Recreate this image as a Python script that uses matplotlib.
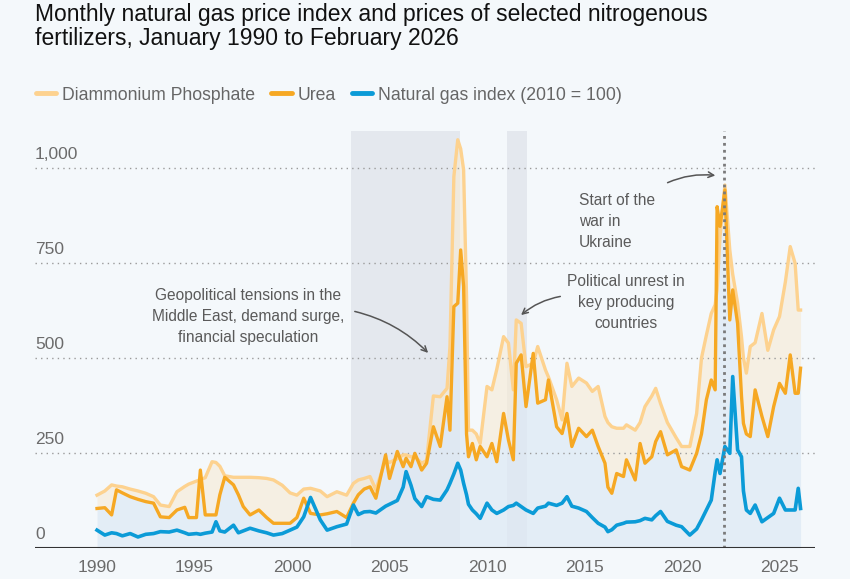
import matplotlib
matplotlib.use('Agg')
import matplotlib.pyplot as plt
from matplotlib.lines import Line2D

plt.rcParams['font.family'] = ['Liberation Sans', 'DejaVu Sans']

# dates as decimal years
dates = [1990.0, 1990.4, 1990.75, 1991.0, 1991.3, 1991.7, 1992.1, 1992.5, 1992.9, 1993.25,
         1993.7, 1994.1, 1994.5, 1994.7, 1995.1, 1995.3, 1995.55, 1995.9, 1996.1, 1996.3,
         1996.55, 1997.0, 1997.25, 1997.5, 1997.85, 1998.3, 1998.7, 1999.05, 1999.5, 1999.9,
         2000.25, 2000.6, 2000.95, 2001.45, 2001.8, 2002.3, 2002.8, 2003.15, 2003.4, 2003.7,
         2004.0, 2004.3, 2004.8, 2005.0, 2005.4, 2005.7, 2005.85, 2006.1, 2006.3, 2006.65,
         2006.9, 2007.25, 2007.6, 2007.95, 2008.1, 2008.3, 2008.5, 2008.65, 2008.8, 2008.95,
         2009.05, 2009.25, 2009.45, 2009.65, 2010.0, 2010.25, 2010.5, 2010.85, 2011.1, 2011.35,
         2011.5, 2011.75, 2012.0, 2012.37, 2012.6, 2013.0, 2013.15, 2013.57, 2013.85, 2014.1,
         2014.35, 2014.7, 2015.1, 2015.4, 2015.7, 2016.05, 2016.2, 2016.4, 2016.65, 2017.0,
         2017.15, 2017.6, 2017.85, 2018.1, 2018.45, 2018.65, 2018.9, 2019.25, 2019.7, 2019.98,
         2020.4, 2020.75, 2021.0, 2021.25, 2021.5, 2021.7, 2021.8, 2021.95, 2022.2, 2022.45,
         2022.6, 2022.85, 2023.05, 2023.15, 2023.3, 2023.5, 2023.75, 2024.1, 2024.4, 2024.7,
         2025.0, 2025.3, 2025.55, 2025.8, 2025.96, 2026.08]

gas = [47, 34, 40, 38, 32, 38, 29, 36, 38, 43,
       42, 47, 40, 36, 38, 36, 39, 42, 69, 45,
       42, 60, 40, 45, 52, 45, 40, 34, 38, 47,
       55, 82, 133, 74, 47, 56, 63, 113, 88, 95,
       96, 92, 110, 115, 125, 160, 201, 165, 130, 109,
       135, 128, 126, 153, 170, 195, 223, 205, 170, 140,
       115, 100, 90, 78, 118, 100, 91, 100, 109, 112,
       118, 109, 100, 91, 105, 110, 118, 112, 118, 135,
       110, 105, 96, 80, 65, 55, 43, 48, 60, 65,
       68, 69, 72, 78, 74, 85, 96, 70, 60, 56,
       34, 50, 74, 100, 126, 200, 232, 196, 267, 249,
       451, 258, 240, 150, 100, 91, 113, 69, 80, 91,
       131, 100, 100, 100, 157, 104]

urea = [104, 106, 87, 153, 145, 135, 128, 122, 118, 82,
        80, 100, 107, 80, 80, 205, 87, 87, 87, 140,
        186, 166, 140, 109, 87, 100, 80, 65, 65, 65,
        80, 131, 91, 87, 90, 96, 80, 118, 140, 155,
        161, 131, 245, 183, 254, 214, 236, 214, 249, 205,
        223, 319, 267, 398, 310, 635, 644, 784, 688, 300,
        240, 275, 232, 267, 240, 275, 227, 354, 284, 232,
        486, 508, 372, 512, 381, 390, 442, 319, 301, 354,
        267, 315, 293, 310, 267, 223, 160, 144, 196, 188,
        232, 179, 275, 223, 240, 280, 306, 245, 258, 214,
        205, 249, 300, 390, 442, 416, 898, 846, 942, 600,
        679, 591, 400, 328, 300, 293, 416, 346, 293, 372,
        433, 407, 508, 407, 407, 473]

dap = [139, 150, 166, 163, 161, 155, 150, 144, 135, 113,
       109, 148, 162, 168, 176, 180, 185, 227, 225, 215,
       190, 186, 186, 186, 186, 185, 183, 179, 165, 145,
       139, 155, 157, 150, 135, 148, 139, 170, 179, 183,
       188, 153, 232, 225, 235, 245, 245, 240, 240, 223,
       230, 400, 398, 420, 530, 977, 1074, 1050, 995, 661,
       310, 310, 300, 275, 425, 416, 470, 556, 539, 416,
       600, 591, 477, 486, 530, 468, 450, 390, 337, 486,
       425, 447, 434, 412, 425, 346, 330, 319, 315, 315,
       324, 310, 330, 372, 400, 420, 380, 330, 290, 267,
       267, 354, 500, 560, 617, 640, 680, 820, 955, 784,
       720, 644, 556, 500, 460, 530, 540, 617, 520, 574,
       609, 700, 793, 749, 626, 626]

y_ticks = [0, 250, 500, 750, 1000]
y_tick_labels = ['0', '250', '500', '750', '1,000']
x_ticks = [1990, 1995, 2000, 2005, 2010, 2015, 2020, 2025]

c_dap = '#fdd28f'
c_urea = '#f6a823'
c_gas = '#0b9bd7'
bg = '#f4f8fb'

fig = plt.figure(figsize=(8.5, 5.79), dpi=100, facecolor=bg)
ax = fig.add_axes([35 / 850, 31 / 579, 780 / 850, 417 / 579])
ax.set_facecolor(bg)
ax.set_xlim(1986.82, 2026.82)
ax.set_ylim(0, 1097)

# shaded periods
ax.axvspan(2003.0, 2008.6, color='#e4e8ee', lw=0, zorder=0)
ax.axvspan(2011.0, 2012.05, color='#e4e8ee', lw=0, zorder=0)

# areas
ax.fill_between(dates, 0, urea, color='#dde9f5', alpha=0.7, lw=0, zorder=1)
ax.fill_between(dates, urea, dap, color='#f7ead3', alpha=0.6, lw=0, zorder=1)

# grid lines
for v in y_ticks[1:]:
    ax.axhline(v, color='#9a9a9a', lw=1, ls=(0, (1, 3)), zorder=2)
for v, lab in zip(y_ticks, y_tick_labels):
    ax.annotate(lab, (1986.82, v), xytext=(0, 4), textcoords='offset points',
                ha='left', va='bottom', fontsize=12.5, color='#6b6b6b')

ax.plot(dates, dap, color=c_dap, lw=2.4, zorder=3, solid_joinstyle='round')
ax.plot(dates, urea, color=c_urea, lw=2.4, zorder=4, solid_joinstyle='round')
ax.plot(dates, gas, color=c_gas, lw=2.6, zorder=5, solid_joinstyle='round')

# start of the war
ax.axvline(2022.17, color='#7a7a7a', lw=2, ls=(0, (1, 1.5)), zorder=6)

ax.axhline(0, color='#333333', lw=1.5, zorder=7)

for s in ax.spines.values():
    s.set_visible(False)
ax.set_yticks([])
ax.set_xticks(x_ticks)
ax.set_xticklabels([str(t) for t in x_ticks], fontsize=12.5, color='#6b6b6b')
ax.tick_params(axis='x', length=0, pad=9)

# annotations
ann = dict(fontsize=11.2, color='#5a5a5a', linespacing=1.5)
arrow = dict(arrowstyle='->', color='#555555', lw=1.1)
ax.text(1997.74, 610, 'Geopolitical tensions in the\nMiddle East, demand surge,\nfinancial speculation',
        ha='center', va='center', **ann)
ax.annotate('', xy=(2007.08, 508), xytext=(2003.08, 624),
            arrowprops=dict(connectionstyle='arc3,rad=-0.15', **arrow))
ax.text(2017.13, 647, 'Political unrest in\nkey producing\ncountries',
        ha='center', va='center', **ann)
ax.annotate('', xy=(2011.64, 608), xytext=(2013.9, 663),
            arrowprops=dict(connectionstyle='arc3,rad=0.15', **arrow))
ax.text(2014.72, 858, 'Start of the\nwar in\nUkraine', ha='left', va='center', **ann)
ax.annotate('', xy=(2021.85, 979), xytext=(2019.13, 958),
            arrowprops=dict(connectionstyle='arc3,rad=-0.15', **arrow))

# title
fig.text(35 / 850, 1 - 15 / 579, 'Monthly natural gas price index and prices of selected nitrogenous',
         ha='left', va='center', fontsize=16.5, color='#111111')
fig.text(35 / 850, 1 - 39 / 579, 'fertilizers, January 1990 to February 2026',
         ha='left', va='center', fontsize=16.5, color='#111111')

handles = [Line2D([], [], color=c_dap, lw=3.5, solid_capstyle='round'),
           Line2D([], [], color=c_urea, lw=3.5, solid_capstyle='round'),
           Line2D([], [], color=c_gas, lw=3.5, solid_capstyle='round')]
leg = fig.legend(handles, ['Diammonium Phosphate', 'Urea', 'Natural gas index (2010 = 100)'],
                 loc='center left', bbox_to_anchor=(36 / 850, 1 - 95 / 579), ncol=3,
                 frameon=False, handlelength=1.15, handletextpad=0.35, columnspacing=0.9,
                 borderpad=0, borderaxespad=0, fontsize=12.7)
for t in leg.get_texts():
    t.set_color('#666666')

fig.savefig('out.png', dpi=100, facecolor=bg)
